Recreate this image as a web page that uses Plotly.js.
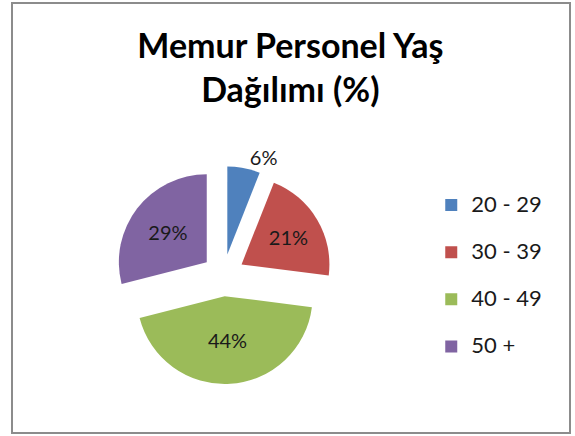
<!DOCTYPE html>
<html>
<head>
<meta charset="utf-8">
<script src="https://cdn.plot.ly/plotly-3.0.1.min.js"></script>
<style>html,body{margin:0;padding:0;background:#fff;}#chart{width:575px;height:436px;}</style>
</head>
<body>
<div id="chart"></div>
<script>
const categories = ["20 - 29", "30 - 39", "40 - 49", "50 +"];
const values = [6, 21, 44, 29];
const colors = ["#4F81BD", "#C0504D", "#9BBB59", "#8064A2"];
const titleLines = ["Memur Personel Yaş", "Dağılımı (%)"];

const FONT = "Lato, 'Open Sans', sans-serif";

const trace = {
  type: "pie",
  labels: categories.map(c => "<span style='font-size:22px'>" + c + "</span><br> "),
  values: values,
  marker: { colors: colors },
  sort: false,
  direction: "clockwise",
  rotation: 0,
  pull: [0.24, 0.24, 0.24, 0.24],
  texttemplate: "%{percent:.0%}",
  textposition: ["outside", "inside", "inside", "inside"],
  insidetextorientation: "horizontal",
  textfont: { family: FONT, size: 20, color: "#1a1a1a" },
  hoverinfo: "label+percent",
  domain: { x: [0.199, 0.578], y: [0.119, 0.619] }
};

const layout = {
  width: 575,
  height: 436,
  margin: { l: 0, r: 0, t: 0, b: 0 },
  paper_bgcolor: "#ffffff",
  font: { family: FONT, color: "#000" },
  title: {
    text: titleLines.join("<br>"),
    font: { family: FONT, size: 34, color: "#000", weight: "bold" },
    x: 0.505, xanchor: "center",
    y: 0.868, yanchor: "middle"
  },
  showlegend: true,
  legend: {
    x: 0.75, xanchor: "left",
    y: 0.342, yanchor: "middle",
    font: { family: FONT, size: 17, color: "#1a1a1a" },
    valign: "top",
    bgcolor: "rgba(0,0,0,0)"
  },
  shapes: [{
    type: "rect", xref: "paper", yref: "paper",
    x0: 12 / 575, x1: 570 / 575, y0: 1 - 433 / 436, y1: 1 - 3 / 436,
    line: { color: "#8c8c8c", width: 2 }
  }]
};

Plotly.newPlot("chart", [trace], layout, { displayModeBar: false, staticPlot: true });
</script>
</body>
</html>
